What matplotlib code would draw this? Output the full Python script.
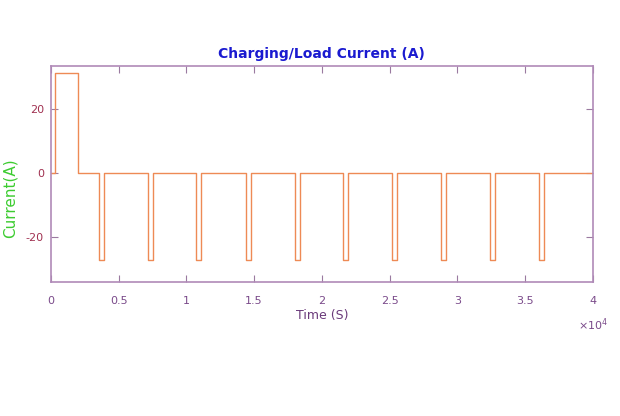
import numpy as np
import matplotlib.pyplot as plt

plt.rcParams["axes.unicode_minus"] = False

# Charging phase
charge_start = 300
charge_end = 2000
charge_current = 31

# Load pulses (start times in s)
pulse_starts = [3550, 7150, 10750, 14380, 18000, 21580, 25150, 28770, 32400, 36000]
pulse_width = 370
load_current = -27
t_end = 40000

x_ticks = [0, 5000, 10000, 15000, 20000, 25000, 30000, 35000, 40000]
x_tick_labels = ["0", "0.5", "1", "1.5", "2", "2.5", "3", "3.5", "4"]
y_ticks = [-20, 0, 20]

# build step waveform
t = [0, charge_start, charge_start, charge_end, charge_end]
i = [0, 0, charge_current, charge_current, 0]
for s in pulse_starts:
    t += [s, s, s + pulse_width, s + pulse_width]
    i += [0, load_current, load_current, 0]
t.append(t_end)
i.append(0)

fig = plt.figure(figsize=(6.2, 4.16), dpi=100)
ax = fig.add_axes([0.082, 0.322, 0.874, 0.519])

ax.plot(t, i, color="#ee8a55", linewidth=1.0)

ax.set_xlim(0, 40000)
ax.set_ylim(-34, 33.2)
ax.set_xticks(x_ticks)
ax.set_xticklabels(x_tick_labels)
ax.set_yticks(y_ticks)

ax.tick_params(direction="in", top=True, right=True, length=5, width=0.8,
               color="#9a7aa0", labelsize=8)
ax.tick_params(axis="x", labelcolor="#7a4a8a", pad=10)
ax.tick_params(axis="y", labelcolor="#a03050", pad=5)
for sp in ax.spines.values():
    sp.set_color("#b08ab8")
    sp.set_linewidth(1.2)

# exponent label bottom right
ax.text(1.0, -0.16, r"$\times10^{4}$", transform=ax.transAxes, ha="center",
        va="top", color="#7a4a8a", fontsize=8)

ax.set_title("Charging/Load Current (A)", color="#1a1ad0", fontsize=10,
             fontweight="bold", pad=6)
ax.set_xlabel("Time (S)", color="#6a3a7a", fontsize=9, labelpad=2)
ax.set_ylabel("Current(A)", color="#3ccc30", fontsize=11)
ax.yaxis.set_label_coords(-0.062, 0.39)

fig.savefig("out.png", dpi=100)
